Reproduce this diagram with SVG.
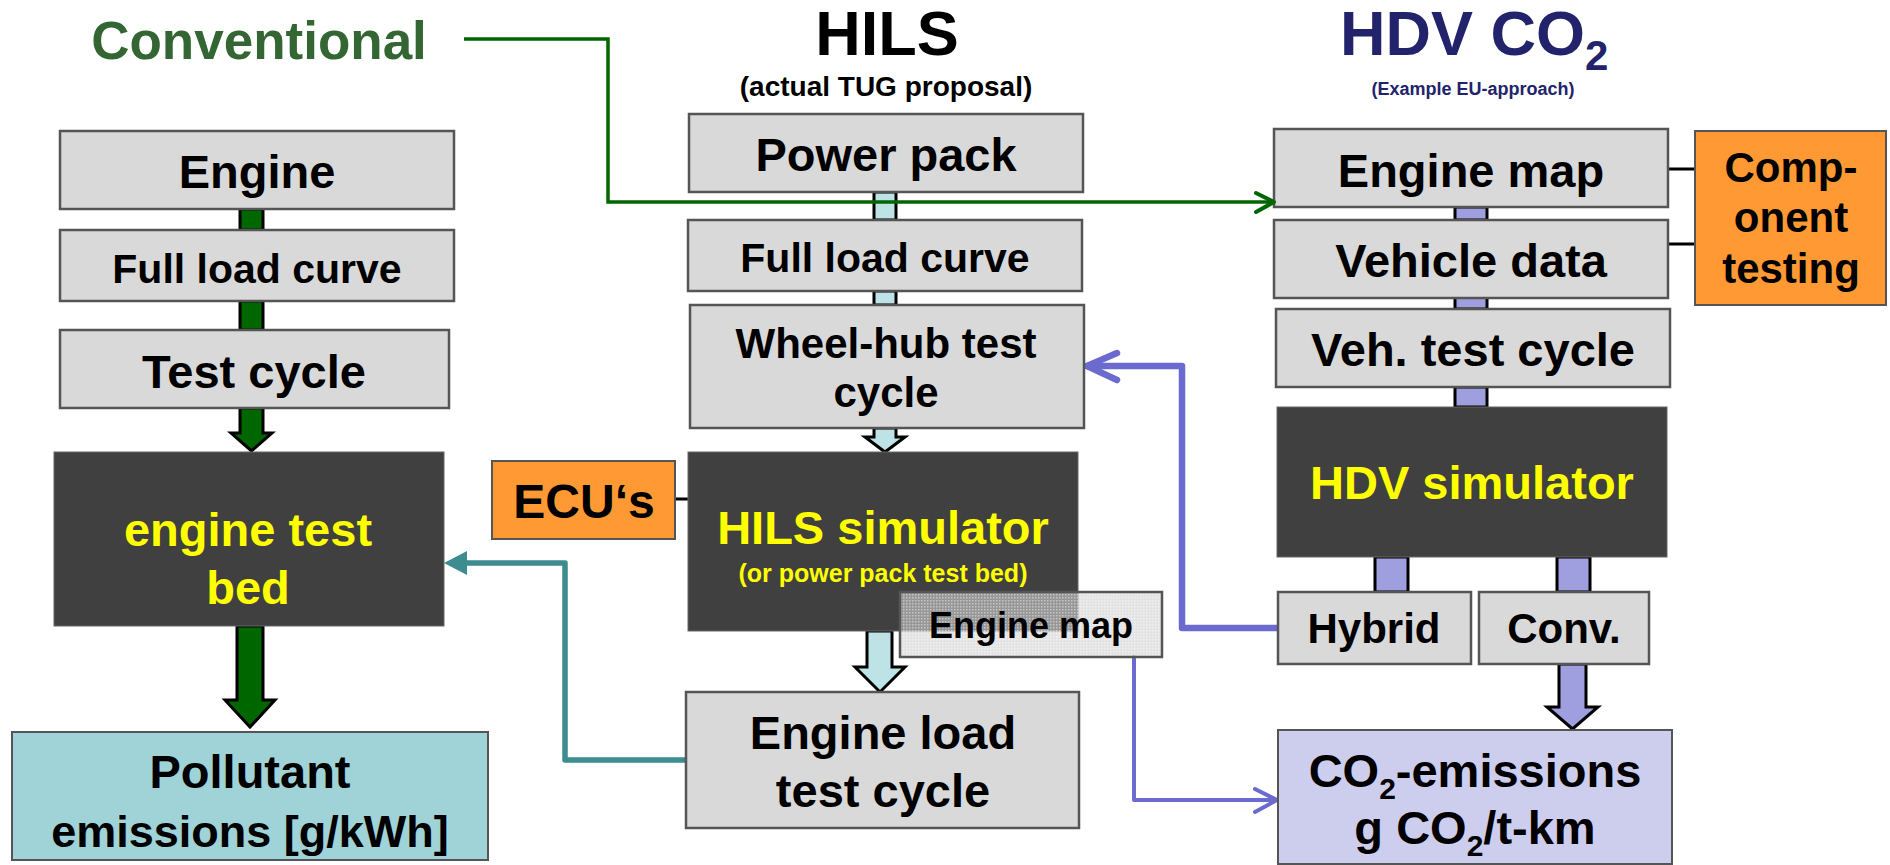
<svg xmlns="http://www.w3.org/2000/svg" width="1890" height="865" viewBox="0 0 1890 865">
<style>
text{font-family:"Liberation Sans",Arial,sans-serif;font-weight:bold;text-anchor:middle}
.box{fill:#d9d9d9;stroke:#555;stroke-width:2.5}
.dark{fill:#404040;stroke:#666;stroke-width:1}
.org{fill:#ff9933;stroke:#555;stroke-width:2}
.t{fill:#000}
.y{fill:#ffff00}
.gs{fill:#006600;stroke:#000;stroke-width:3}
.ls{fill:#bde3e6;stroke:#000;stroke-width:3}
.ps{fill:#9f9fdf;stroke:#000;stroke-width:3}
.ln{fill:none;stroke-linecap:round;stroke-linejoin:round}
</style>
<defs>
<pattern id="dots" width="3" height="3" patternUnits="userSpaceOnUse">
<rect width="3" height="3" fill="#d0d0d0" fill-opacity="0.6"/>
<rect width="1.5" height="1.5" fill="#ffffff" fill-opacity="0.45"/>
</pattern>
</defs>
<rect width="1890" height="865" fill="#fff"/>

<!-- titles -->
<text x="259" y="59" font-size="53" fill="#336633">Conventional</text>
<text x="887" y="55" font-size="63" class="t">HILS</text>
<text x="886" y="96" font-size="28" class="t">(actual TUG proposal)</text>
<text x="1340" y="55" font-size="63" fill="#23236b" style="text-anchor:start">HDV CO<tspan font-size="42" dy="15">2</tspan></text>
<text x="1473" y="95" font-size="18" fill="#23236b">(Example EU-approach)</text>

<!-- connectors -->
<g id="connectors">
<!-- green left shafts -->
<rect class="gs" x="240" y="209" width="23" height="21"/>
<rect class="gs" x="240" y="301" width="23" height="29"/>
<polygon class="gs" points="240,408 263,408 263,433 272,433 251.5,451 231,433 240,433"/>
<polygon class="gs" points="237,626 263,626 263,700 275,700 250,727 225,700 237,700"/>
<!-- light blue shafts -->
<rect class="ls" x="874" y="192" width="22" height="28"/>
<rect class="ls" x="874" y="291" width="22" height="14"/>
<polygon class="ls" points="874,428 896,428 896,437 905,437 885,452 865,437 874,437"/>
<polygon class="ls" points="867,631 892,631 892,667 905,667 880,692 855,667 867,667"/>
<!-- purple shafts -->
<rect class="ps" x="1455" y="207" width="32" height="13"/>
<rect class="ps" x="1455" y="297" width="32" height="12"/>
<rect class="ps" x="1455" y="387" width="32" height="20"/>
<rect class="ps" x="1375" y="557" width="33" height="35"/>
<rect class="ps" x="1557" y="557" width="33" height="35"/>
<polygon class="ps" points="1559,664 1586,664 1586,707 1598,707 1572.5,729 1547,707 1559,707"/>
<!-- black ties -->
<path d="M675,499 H688 M1668,169 H1695 M1668,244 H1695" stroke="#000" stroke-width="3" fill="none"/>
<!-- teal -->
<path d="M685,760 H565 V563 H464" fill="none" stroke="#3d8c8f" stroke-width="5.5" stroke-linejoin="round"/>
<polygon points="444,563 467,551 467,575" fill="#3d8c8f"/>
<!-- periwinkle thick -->
<path class="ln" d="M1278,628 H1182 V366 H1087" stroke="#6b6bcf" stroke-width="6.5"/>
<path class="ln" d="M1117,353 L1087,366 L1117,380" stroke="#6b6bcf" stroke-width="6.5"/>
<!-- periwinkle thin -->
<path class="ln" d="M1134,657 V800 H1276" stroke="#6b6bcf" stroke-width="4"/>
<path class="ln" d="M1255,789 L1277,800 L1255,812" stroke="#6b6bcf" stroke-width="4"/>
</g>

<!-- left column -->
<g id="n-engine"><rect class="box" x="60" y="131" width="394" height="78"/><text x="257" y="188" font-size="47">Engine</text></g>
<g id="n-flc-left"><rect class="box" x="60" y="230" width="394" height="71"/><text x="257" y="283" font-size="41">Full load curve</text></g>
<g id="n-testcycle"><rect class="box" x="60" y="330" width="389" height="78"/><text x="254" y="388" font-size="47">Test cycle</text></g>
<g id="n-testbed"><rect class="dark" x="54" y="452" width="390" height="174"/><text class="y" x="248" y="546" font-size="47">engine test</text><text class="y" x="248" y="604" font-size="47">bed</text></g>
<g id="n-pollutant"><rect x="12" y="732" width="476" height="128" fill="#9fd3d7" stroke="#555" stroke-width="2"/><text x="250" y="788" font-size="47">Pollutant</text><text x="250" y="847" font-size="45">emissions [g/kWh]</text></g>

<!-- HILS column -->
<g id="n-powerpack"><rect class="box" x="689" y="114" width="394" height="78"/><text x="886" y="171" font-size="47">Power pack</text></g>
<g id="n-flc-mid"><rect class="box" x="688" y="220" width="394" height="71"/><text x="885" y="272" font-size="41">Full load curve</text></g>
<g id="n-wheelhub"><rect class="box" x="690" y="305" width="394" height="123"/><text x="886" y="358" font-size="42">Wheel-hub test</text><text x="886" y="407" font-size="42">cycle</text></g>
<g id="n-ecu"><rect class="org" x="492" y="461" width="183" height="78"/><text x="584" y="518" font-size="48">ECU‘s</text></g>
<g id="n-hilssim"><rect class="dark" x="688" y="452" width="390" height="179"/><text class="y" x="883" y="544" font-size="47">HILS simulator</text><text class="y" x="883" y="582" font-size="25">(or power pack test bed)</text></g>
<g id="n-enginemap-small"><rect x="900" y="592" width="262" height="65" fill="url(#dots)" stroke="#555" stroke-width="2.5"/><text x="1031" y="638" font-size="36">Engine map</text></g>
<g id="n-engineload"><rect class="box" x="686" y="692" width="393" height="136"/><text x="883" y="749" font-size="47">Engine load</text><text x="883" y="807" font-size="47">test cycle</text></g>

<!-- HDV column -->
<g id="n-enginemap"><rect class="box" x="1274" y="129" width="394" height="78"/><text x="1471" y="187" font-size="47">Engine map</text></g>
<g id="n-vehdata"><rect class="box" x="1274" y="220" width="394" height="78"/><text x="1471" y="277" font-size="47">Vehicle data</text></g>
<g id="n-vehcycle"><rect class="box" x="1276" y="309" width="394" height="78"/><text x="1473" y="366" font-size="47">Veh. test cycle</text></g>
<g id="n-component"><rect class="org" x="1695" y="131" width="191" height="174"/><text x="1791" y="182" font-size="42">Comp-</text><text x="1791" y="232" font-size="42">onent</text><text x="1791" y="283" font-size="42">testing</text></g>
<g id="n-hdvsim"><rect class="dark" x="1277" y="407" width="390" height="150"/><text class="y" x="1472" y="499" font-size="47">HDV simulator</text></g>
<g id="n-hybrid"><rect class="box" x="1278" y="592" width="193" height="72"/><text x="1374" y="643" font-size="42">Hybrid</text></g>
<g id="n-conv"><rect class="box" x="1479" y="592" width="170" height="72"/><text x="1564" y="643" font-size="42">Conv.</text></g>
<g id="n-co2"><rect x="1278" y="730" width="394" height="134" fill="#cdcdee" stroke="#555" stroke-width="2"/><text x="1475" y="787" font-size="47">CO<tspan font-size="30" dy="12">2</tspan><tspan dy="-12">-emissions</tspan></text><text x="1475" y="844" font-size="47">g CO<tspan font-size="30" dy="12">2</tspan><tspan dy="-12">/t-km</tspan></text></g>

<!-- green conventional line on top -->
<g id="connector-conventional">
<path d="M464,39 H608 V202 H1272" fill="none" stroke="#006600" stroke-width="3.5"/>
<path class="ln" d="M1256,193 L1274,202 L1256,212" stroke="#006600" stroke-width="4"/>
</g>
</svg>
